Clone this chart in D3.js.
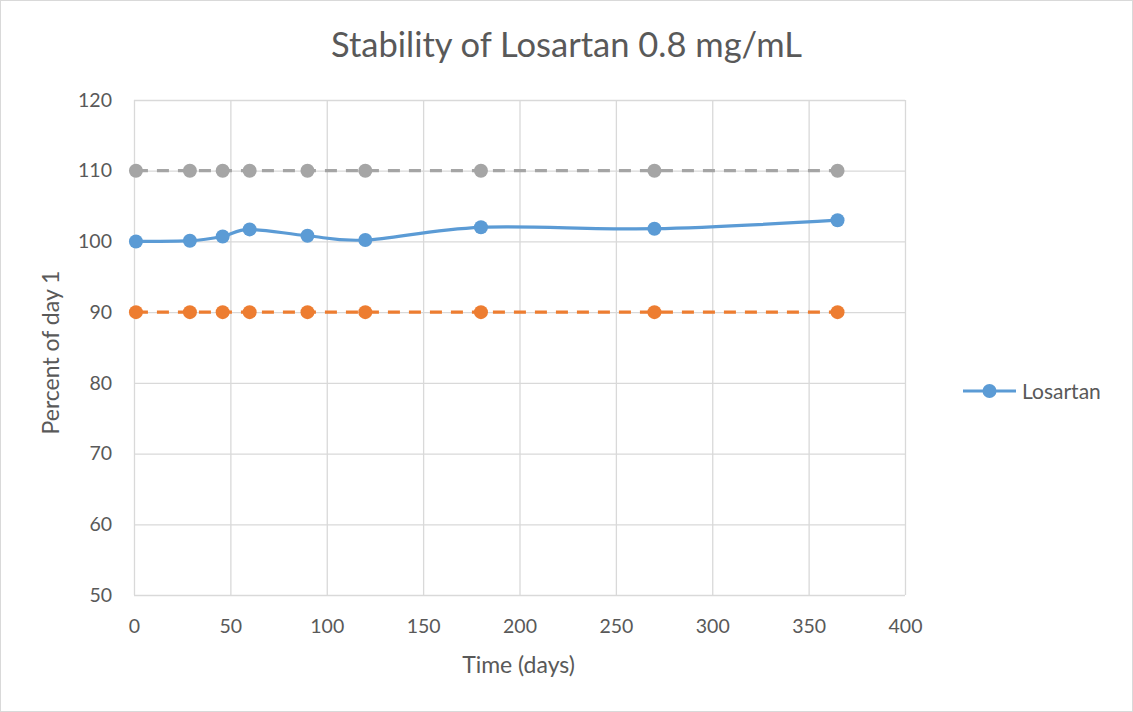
<!DOCTYPE html>
<html>
<head>
<meta charset="utf-8">
<script src="https://cdn.jsdelivr.net/npm/d3@7"></script>
<style>
html,body{margin:0;padding:0;background:#fff;}
svg{display:block;}
text{font-family:Lato,"Open Sans",sans-serif;fill:#595959;}
</style>
</head>
<body>
<svg id="chart" width="1133" height="712"></svg>
<script>
const days = [1, 29, 46, 60, 90, 120, 180, 270, 365];
const losartan = [100, 100.1, 100.7, 101.7, 100.8, 100.2, 102.0, 101.8, 103.0];
const upperLimit = [110, 110, 110, 110, 110, 110, 110, 110, 110];
const lowerLimit = [90, 90, 90, 90, 90, 90, 90, 90, 90];
const xTicks = [0, 50, 100, 150, 200, 250, 300, 350, 400];
const yTicks = [50, 60, 70, 80, 90, 100, 110, 120];

const W = 1133, H = 712;
const L = 134, R = 905, T = 100, B = 595;
const svg = d3.select("#chart");

svg.append("rect").attr("x",0.5).attr("y",0.5).attr("width",W-1).attr("height",H-1)
  .attr("fill","#fff").attr("stroke","#d9d9d9");

const x = d3.scaleLinear().domain([0,400]).range([L,R]);
const y = d3.scaleLinear().domain([50,120]).range([B,T]);

// gridlines
svg.append("g").selectAll("line").data(yTicks).join("line")
  .attr("x1",L).attr("x2",R).attr("y1",d=>y(d)+0.5).attr("y2",d=>y(d)+0.5)
  .attr("stroke","#d9d9d9").attr("stroke-width",1.3);
svg.append("g").selectAll("line").data(xTicks).join("line")
  .attr("y1",T).attr("y2",B).attr("x1",d=>x(d)+0.5).attr("x2",d=>x(d)+0.5)
  .attr("stroke","#d9d9d9").attr("stroke-width",1.3);

// axes labels via d3 axes
const xAxis = d3.axisBottom(x).tickValues(xTicks).tickSize(0);
const gx = svg.append("g").attr("transform",`translate(0,${B})`).call(xAxis);
gx.select(".domain").remove();
gx.selectAll("text").attr("dy",null).attr("y",38)
  .style("font-size","19.5px").style("font-family","Lato,'Open Sans',sans-serif").attr("fill","#595959");

const yAxis = d3.axisLeft(y).tickValues(yTicks).tickSize(0).tickPadding(22);
const gy = svg.append("g").attr("transform",`translate(${L},0)`).call(yAxis);
gy.select(".domain").remove();
gy.selectAll("text").style("font-size","19.5px").style("font-family","Lato,'Open Sans',sans-serif").attr("fill","#595959");

// series
function drawSeries(vals, color, dashed, curve){
  const data = days.map((d,i)=>({x:d,y:vals[i]}));
  const line = d3.line().x(d=>x(d.x)).y(d=>y(d.y)).curve(curve);
  svg.append("path").datum(data).attr("d",line).attr("fill","none")
    .attr("stroke",color).attr("stroke-width",3.2)
    .attr("stroke-dasharray",dashed?"12,9":null);
  svg.append("g").selectAll("circle").data(data).join("circle")
    .attr("cx",d=>x(d.x)).attr("cy",d=>y(d.y)).attr("r",7).attr("fill",color);
}
drawSeries(upperLimit,"#a5a5a5",true,d3.curveLinear);
drawSeries(lowerLimit,"#ed7d31",true,d3.curveLinear);
drawSeries(losartan,"#5b9bd5",false,d3.curveCardinal.tension(0));

// title
svg.append("text").attr("x",W/2).attr("y",57).attr("text-anchor","middle")
  .style("font-size","34.5px").text("Stability of Losartan 0.8 mg/mL");

// axis titles
svg.append("text").attr("x",(L+R)/2-1).attr("y",673).attr("text-anchor","middle")
  .style("font-size","23px").text("Time (days)");
svg.append("text").attr("transform",`translate(59,${(T+B)/2+5}) rotate(-90)`).attr("text-anchor","middle")
  .style("font-size","23px").text("Percent of day 1");

// legend
const ly = 391;
svg.append("line").attr("x1",963).attr("x2",1016).attr("y1",ly).attr("y2",ly)
  .attr("stroke","#5b9bd5").attr("stroke-width",3.2);
svg.append("circle").attr("cx",989.5).attr("cy",ly).attr("r",7).attr("fill","#5b9bd5");
svg.append("text").attr("x",1022).attr("y",ly+7.5).style("font-size","21px").text("Losartan");
</script>
</body>
</html>
